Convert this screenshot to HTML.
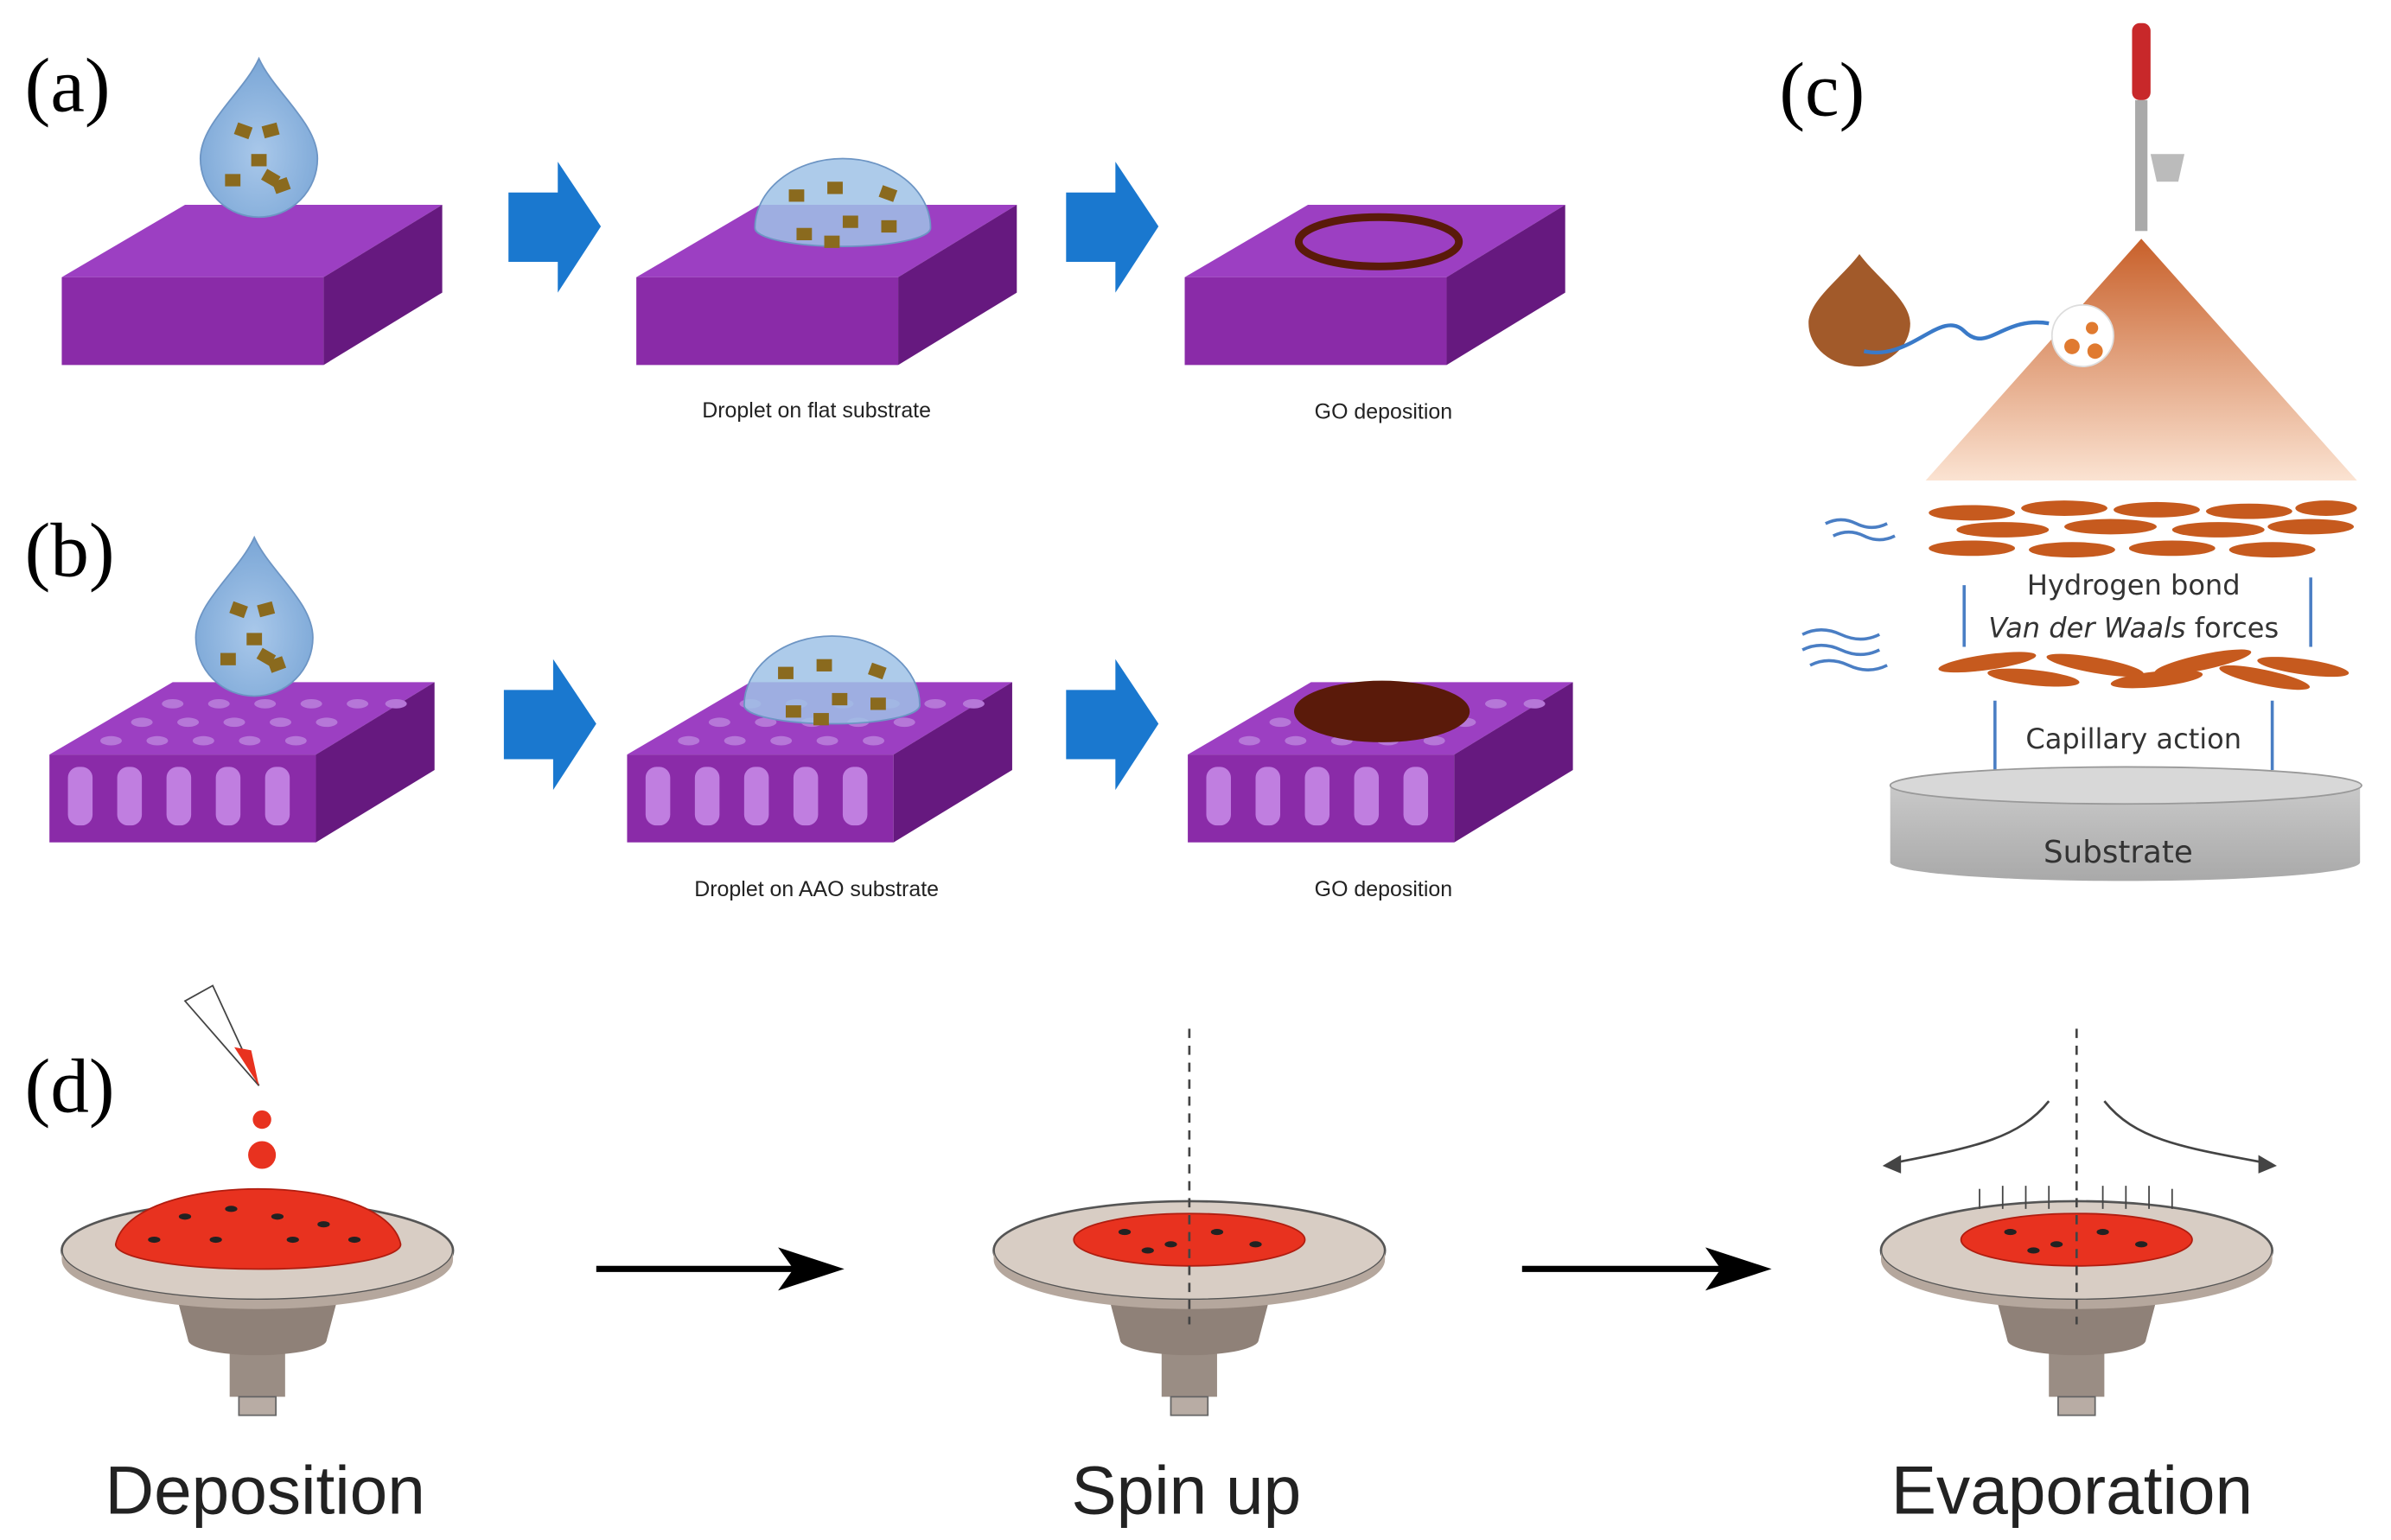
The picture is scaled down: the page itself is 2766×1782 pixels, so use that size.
<!DOCTYPE html>
<html><head><meta charset="utf-8"><style>
html,body{margin:0;padding:0;background:#fff;}
svg{display:block;}
</style></head><body>
<svg width="2766" height="1782" viewBox="0 0 1552 1000" xmlns="http://www.w3.org/2000/svg">
<defs>
<linearGradient id="cone" x1="0" y1="0" x2="0" y2="1"><stop offset="0" stop-color="#c8602a"/><stop offset="1" stop-color="#fbe3d2"/></linearGradient>
<radialGradient id="drop" cx="0.5" cy="0.6" r="0.6"><stop offset="0" stop-color="#a9c8ea"/><stop offset="1" stop-color="#7aa6d6"/></radialGradient>
<linearGradient id="sub" x1="0" y1="0" x2="0" y2="1"><stop offset="0" stop-color="#c9c9c9"/><stop offset="1" stop-color="#a9a9a9"/></linearGradient>
<g id="flat">
<polygon points="0,47 80,0 247,0 170,47" fill="#9c3fc2"/>
<polygon points="0,47 170,47 170,104 0,104" fill="#8a2ba8"/>
<polygon points="170,47 247,0 247,57 170,104" fill="#66197f"/>
</g>
<g id="porous">
<polygon points="0,47 80,0 250,0 173,47" fill="#9c3fc2"/>
<polygon points="0,47 173,47 173,104 0,104" fill="#8a2ba8"/>
<polygon points="173,47 250,0 250,57 173,104" fill="#66197f"/>
<g fill="#c07ee0">
<rect x="12" y="55" width="16" height="38" rx="7"/><rect x="44" y="55" width="16" height="38" rx="7"/><rect x="76" y="55" width="16" height="38" rx="7"/><rect x="108" y="55" width="16" height="38" rx="7"/><rect x="140" y="55" width="16" height="38" rx="7"/>
</g>
<g fill="#b677d8">
<ellipse cx="40" cy="38" rx="7" ry="3"/><ellipse cx="70" cy="38" rx="7" ry="3"/><ellipse cx="100" cy="38" rx="7" ry="3"/><ellipse cx="130" cy="38" rx="7" ry="3"/><ellipse cx="160" cy="38" rx="7" ry="3"/>
<ellipse cx="60" cy="26" rx="7" ry="3"/><ellipse cx="90" cy="26" rx="7" ry="3"/><ellipse cx="120" cy="26" rx="7" ry="3"/><ellipse cx="150" cy="26" rx="7" ry="3"/><ellipse cx="180" cy="26" rx="7" ry="3"/>
<ellipse cx="80" cy="14" rx="7" ry="3"/><ellipse cx="110" cy="14" rx="7" ry="3"/><ellipse cx="140" cy="14" rx="7" ry="3"/><ellipse cx="170" cy="14" rx="7" ry="3"/><ellipse cx="200" cy="14" rx="7" ry="3"/><ellipse cx="225" cy="14" rx="7" ry="3"/>
</g>
</g>
<g id="drop1">
<path d="M0,-57 C10,-35 38,-15 38,8 A38,38 0 0 1 -38,8 C-38,-15 -10,-35 0,-57Z" fill="url(#drop)" stroke="#6d95c4"/>
<g fill="#8a6a1e"><rect x="-18" y="-10" width="10" height="8" transform="rotate(20)"/><rect x="5" y="-12" width="10" height="8" transform="rotate(-15)"/><rect x="-5" y="5" width="10" height="8"/><rect x="12" y="10" width="10" height="8" transform="rotate(30)"/><rect x="-22" y="18" width="10" height="8"/><rect x="0" y="25" width="10" height="8" transform="rotate(-20)"/></g>
</g>
<g id="dome">
<path d="M-57,0 A57,45 0 0 1 57,0 A57,12 0 0 1 -57,0Z" fill="#9fc2e6" fill-opacity="0.85" stroke="#6d95c4"/>
<g fill="#8a6a1e"><rect x="-35" y="-25" width="10" height="8"/><rect x="-10" y="-30" width="10" height="8"/><rect x="15" y="-35" width="10" height="8" transform="rotate(20)"/><rect x="-30" y="0" width="10" height="8"/><rect x="0" y="-8" width="10" height="8"/><rect x="25" y="-5" width="10" height="8"/><rect x="-12" y="5" width="10" height="8"/></g>
</g>
<g id="barrow"><polygon points="0,20 32,20 32,0 60,42 32,85 32,65 0,65" fill="#1a78cf"/></g>
<g id="spinner">
<rect x="-18" y="55" width="36" height="40" fill="#9a8d84"/>
<rect x="-12" y="95" width="24" height="12" fill="#b8aca4" stroke="#666"/>
<path d="M-55,20 L-45,58 A45,10 0 0 0 45,58 L55,20Z" fill="#8f8178"/>
<ellipse cx="0" cy="0" rx="127" ry="32" fill="#d8cdc4" stroke="#555" stroke-width="1.5"/>
<path d="M-127,0 A127,32 0 0 0 127,0 L127,6 A127,32 0 0 1 -127,6Z" fill="#b5a79d"/>
</g>
</defs>

<!-- labels -->
<g font-family="Liberation Serif, serif" font-size="50" fill="#000">
<text x="16" y="72">(a)</text><text x="16" y="374">(b)</text><text x="1155" y="75">(c)</text><text x="16" y="722">(d)</text>
</g>

<!-- (a) -->
<use href="#flat" x="40" y="133"/>
<use href="#flat" x="413" y="133"/>
<use href="#flat" x="769" y="133"/>
<use href="#drop1" x="168" y="95"/>
<use href="#dome" x="547" y="148"/>
<ellipse cx="895" cy="157" rx="52" ry="16" fill="none" stroke="#5a1a0a" stroke-width="5"/>
<use href="#barrow" x="330" y="105"/>
<use href="#barrow" x="692" y="105"/>
<g font-family="Liberation Sans, sans-serif" font-size="14" text-anchor="middle" fill="#222">
<text x="530" y="271">Droplet on flat substrate</text><text x="898" y="272">GO deposition</text>
<text x="530" y="582">Droplet on AAO substrate</text><text x="898" y="582">GO deposition</text>
</g>

<!-- (b) -->
<use href="#porous" x="32" y="443"/>
<use href="#porous" x="407" y="443"/>
<use href="#porous" x="771" y="443"/>
<use href="#drop1" x="165" y="406"/>
<use href="#dome" x="540" y="458"/>
<ellipse cx="897" cy="462" rx="57" ry="20" fill="#5a1a0a"/>
<use href="#barrow" x="327" y="428"/>
<use href="#barrow" x="692" y="428"/>

<!-- (c) -->
<rect x="1384" y="15" width="12" height="50" rx="5" fill="#c8282a"/>
<rect x="1386" y="65" width="8" height="85" fill="#aaa"/>
<path d="M1396,100 l22,0 l-4,18 l-14,0Z" fill="#bbb"/>
<polygon points="1390,155 1250,312 1530,312" fill="url(#cone)"/>
<path d="M1207,165 C1218,180 1240,195 1240,210 A33,28 0 0 1 1174,210 C1174,195 1196,180 1207,165Z" fill="#a25a2a"/>
<path d="M1210,228 C1240,235 1260,200 1275,215 C1290,230 1300,205 1330,210" fill="none" stroke="#3a7ac8" stroke-width="2.5"/>
<circle cx="1352" cy="218" r="20" fill="#fff" stroke="#ddd"/>
<circle cx="1345" cy="225" r="5" fill="#e07a30"/><circle cx="1358" cy="213" r="4" fill="#e07a30"/><circle cx="1360" cy="228" r="5" fill="#e07a30"/>
<g fill="#c65a1e">
<ellipse cx="1280" cy="333" rx="28" ry="5"/><ellipse cx="1340" cy="330" rx="28" ry="5"/><ellipse cx="1400" cy="331" rx="28" ry="5"/><ellipse cx="1460" cy="332" rx="28" ry="5"/><ellipse cx="1510" cy="330" rx="20" ry="5"/>
<ellipse cx="1300" cy="344" rx="30" ry="5"/><ellipse cx="1370" cy="342" rx="30" ry="5"/><ellipse cx="1440" cy="344" rx="30" ry="5"/><ellipse cx="1500" cy="342" rx="28" ry="5"/>
<ellipse cx="1280" cy="356" rx="28" ry="5"/><ellipse cx="1345" cy="357" rx="28" ry="5"/><ellipse cx="1410" cy="356" rx="28" ry="5"/><ellipse cx="1475" cy="357" rx="28" ry="5"/>
<ellipse cx="1290" cy="430" rx="32" ry="5" transform="rotate(-8 1290 430)"/><ellipse cx="1360" cy="432" rx="32" ry="5" transform="rotate(10 1360 432)"/><ellipse cx="1430" cy="430" rx="32" ry="5" transform="rotate(-12 1430 430)"/><ellipse cx="1495" cy="433" rx="30" ry="5" transform="rotate(8 1495 433)"/>
<ellipse cx="1320" cy="440" rx="30" ry="5" transform="rotate(6 1320 440)"/><ellipse cx="1400" cy="441" rx="30" ry="5" transform="rotate(-6 1400 441)"/><ellipse cx="1470" cy="440" rx="30" ry="5" transform="rotate(12 1470 440)"/>
</g>
<g stroke="#4a7ec4" stroke-width="2" fill="none">
<path d="M1275,380 V420"/><path d="M1500,375 V420"/><path d="M1295,455 V500"/><path d="M1475,455 V500"/>
<path d="M1185,340 q10,-5 20,0 t20,0"/><path d="M1190,348 q10,-5 20,0 t20,0"/>
<path d="M1170,412 q12,-6 25,0 t25,0"/><path d="M1170,422 q12,-6 25,0 t25,0"/><path d="M1175,432 q12,-6 25,0 t25,0"/>
</g>
<path d="M1227,510 L1227,560 A152,12 0 0 0 1532,560 L1532,510Z" fill="url(#sub)"/>
<ellipse cx="1380" cy="510" rx="153" ry="12" fill="#d8d8d8" stroke="#999"/>
<g font-family="DejaVu Sans, sans-serif" font-size="18" text-anchor="middle" fill="#333">
<text x="1385" y="386">Hydrogen bond</text>
<text x="1385" y="414"><tspan font-style="italic">Van der Waals</tspan> forces</text>
<text x="1385" y="486">Capillary action</text>
<text x="1375" y="560" font-size="20">Substrate</text>
</g>

<!-- (d) -->
<use href="#spinner" x="167" y="812"/>
<use href="#spinner" x="772" y="812"/>
<use href="#spinner" x="1348" y="812"/>
<path d="M75,808 C85,760 250,760 260,808 A92,16 0 0 1 75,808Z" fill="#e8321f" stroke="#b01d10"/>
<ellipse cx="772" cy="805" rx="75" ry="17" fill="#e8321f" stroke="#b01d10"/>
<ellipse cx="1348" cy="805" rx="75" ry="17" fill="#e8321f" stroke="#b01d10"/>
<g fill="#222">
<ellipse cx="120" cy="790" rx="4" ry="2"/><ellipse cx="150" cy="785" rx="4" ry="2"/><ellipse cx="180" cy="790" rx="4" ry="2"/><ellipse cx="210" cy="795" rx="4" ry="2"/><ellipse cx="140" cy="805" rx="4" ry="2"/><ellipse cx="190" cy="805" rx="4" ry="2"/><ellipse cx="230" cy="805" rx="4" ry="2"/><ellipse cx="100" cy="805" rx="4" ry="2"/>
<ellipse cx="730" cy="800" rx="4" ry="2"/><ellipse cx="760" cy="808" rx="4" ry="2"/><ellipse cx="790" cy="800" rx="4" ry="2"/><ellipse cx="815" cy="808" rx="4" ry="2"/><ellipse cx="745" cy="812" rx="4" ry="2"/>
<ellipse cx="1305" cy="800" rx="4" ry="2"/><ellipse cx="1335" cy="808" rx="4" ry="2"/><ellipse cx="1365" cy="800" rx="4" ry="2"/><ellipse cx="1390" cy="808" rx="4" ry="2"/><ellipse cx="1320" cy="812" rx="4" ry="2"/>
</g>
<polygon points="120,650 138,640 168,705" fill="#fff" stroke="#444"/>
<polygon points="152,680 163,682 168,705" fill="#e8321f"/>
<circle cx="170" cy="727" r="6" fill="#e8321f"/><circle cx="170" cy="750" r="9" fill="#e8321f"/>
<g stroke="#444" stroke-dasharray="6,5" stroke-width="1.5">
<line x1="772" y1="668" x2="772" y2="860"/><line x1="1348" y1="668" x2="1348" y2="860"/>
</g>
<g fill="none" stroke="#444" stroke-width="1.5">
<path d="M1330,715 C1310,740 1280,745 1230,755"/><path d="M1366,715 C1386,740 1416,745 1470,755"/>
</g>
<polygon points="1222,757 1234,750 1234,762" fill="#444"/><polygon points="1478,757 1466,750 1466,762" fill="#444"/>
<g stroke="#444" stroke-width="1">
<line x1="1285" y1="785" x2="1285" y2="772"/><line x1="1300" y1="785" x2="1300" y2="770"/><line x1="1315" y1="785" x2="1315" y2="770"/><line x1="1330" y1="785" x2="1330" y2="770"/><line x1="1365" y1="785" x2="1365" y2="770"/><line x1="1380" y1="785" x2="1380" y2="770"/><line x1="1395" y1="785" x2="1395" y2="770"/><line x1="1410" y1="785" x2="1410" y2="772"/>
</g>
<line x1="387" y1="824" x2="520" y2="824" stroke="#000" stroke-width="4"/>
<polygon points="548,824 505,810 515,824 505,838" fill="#000"/>
<line x1="988" y1="824" x2="1122" y2="824" stroke="#000" stroke-width="4"/>
<polygon points="1150,824 1107,810 1117,824 1107,838" fill="#000"/>
<g font-family="Liberation Sans, sans-serif" font-size="44" text-anchor="middle" fill="#222">
<text x="172" y="983">Deposition</text><text x="770" y="983">Spin up</text><text x="1345" y="983">Evaporation</text>
</g>
</svg>
</body></html>
